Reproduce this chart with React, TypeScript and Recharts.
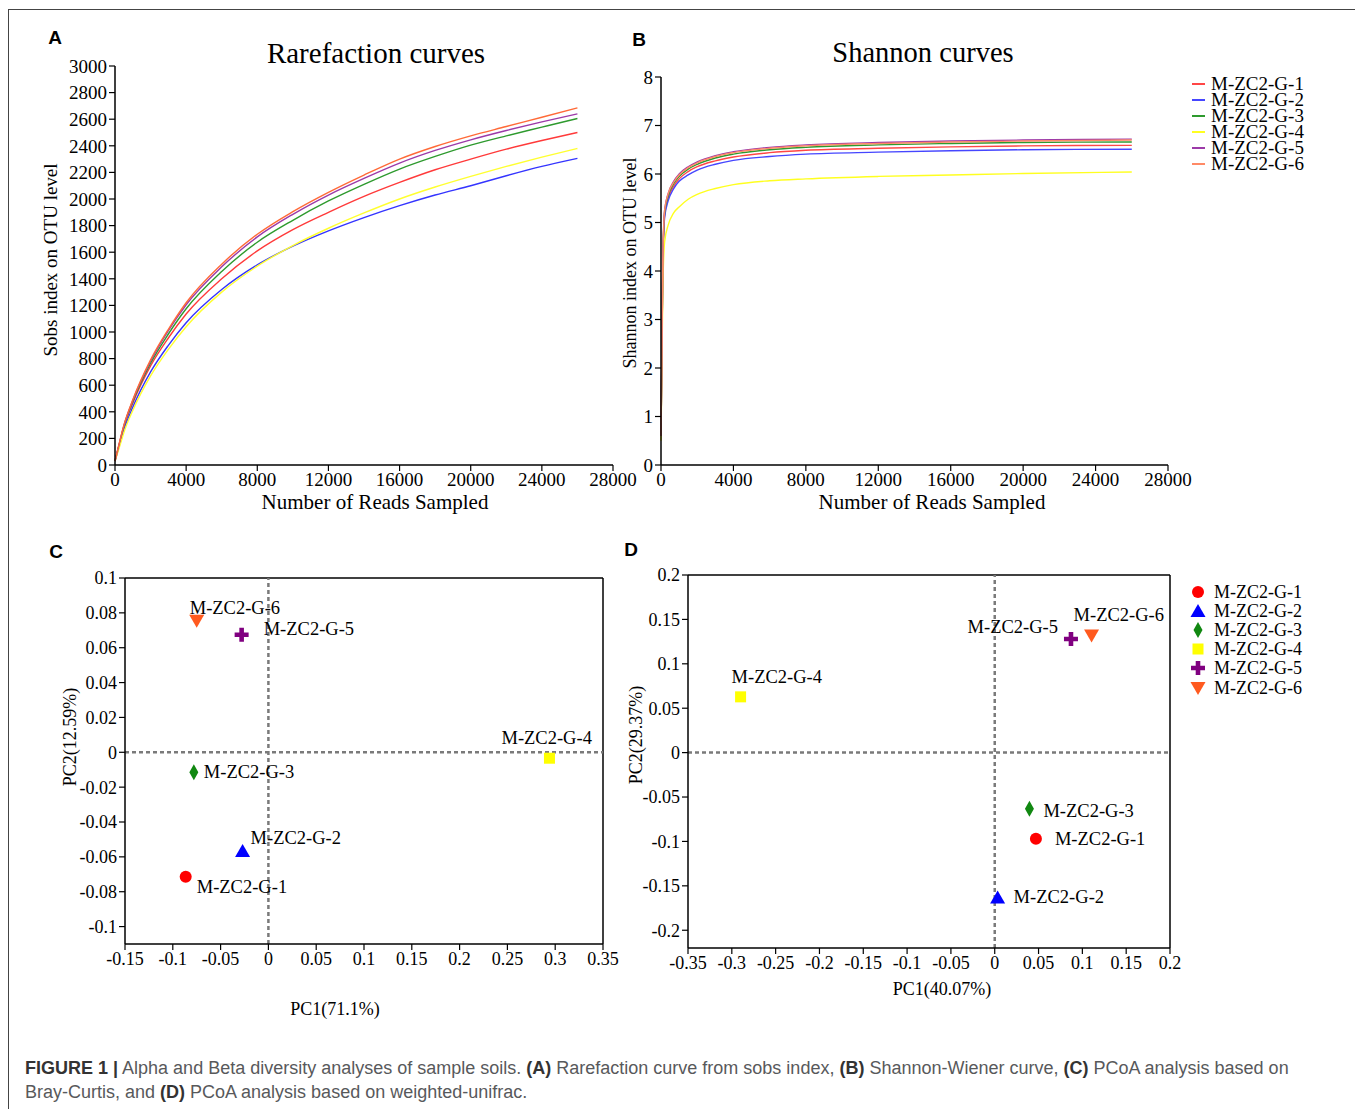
import React from 'react';
import { LineChart, Line, ScatterChart, Scatter, XAxis, YAxis, ReferenceLine } from 'recharts';

const SERIF = '"Liberation Serif", "Times New Roman", serif';
const SANS = '"Liberation Sans", Arial, sans-serif';

const SAMPLES = ['M-ZC2-G-1', 'M-ZC2-G-2', 'M-ZC2-G-3', 'M-ZC2-G-4', 'M-ZC2-G-5', 'M-ZC2-G-6'];

// A: rarefaction curves (sobs index)
const READS_A = [0, 250, 500, 1000, 2000, 3000, 4000, 6000, 8000, 10000, 12000, 14000, 16000, 18000, 20000, 22000, 24000, 26000];
const SOBS_G1 = [30, 160, 285, 465, 745, 955, 1135, 1400, 1610, 1770, 1900, 2020, 2125, 2220, 2300, 2375, 2440, 2500];
const SOBS_G2 = [30, 150, 265, 435, 700, 900, 1070, 1320, 1505, 1645, 1760, 1860, 1950, 2030, 2100, 2175, 2245, 2305];
const SOBS_G3 = [30, 160, 290, 475, 765, 985, 1175, 1455, 1675, 1840, 1985, 2110, 2225, 2320, 2405, 2475, 2540, 2605];
const SOBS_G4 = [30, 135, 245, 410, 670, 870, 1040, 1300, 1495, 1650, 1780, 1895, 2000, 2090, 2170, 2245, 2315, 2380];
const SOBS_G5 = [30, 165, 295, 485, 780, 1010, 1205, 1490, 1715, 1885, 2030, 2155, 2270, 2365, 2445, 2515, 2580, 2640];
const SOBS_G6 = [30, 170, 300, 490, 790, 1020, 1220, 1510, 1735, 1905, 2050, 2180, 2300, 2395, 2475, 2545, 2615, 2685];
const SOBS = [SOBS_G1, SOBS_G2, SOBS_G3, SOBS_G4, SOBS_G5, SOBS_G6];

// B: shannon curves
const READS_B = [0, 100, 200, 400, 700, 1000, 1500, 2000, 3000, 4000, 6000, 8000, 12000, 16000, 20000, 26000];
const SHAN_G1 = [0.6, 4.1, 5.15, 5.5, 5.75, 5.9, 6.05, 6.15, 6.27, 6.35, 6.44, 6.49, 6.53, 6.56, 6.58, 6.59];
const SHAN_G2 = [0.6, 4.05, 5.1, 5.45, 5.7, 5.85, 5.98, 6.08, 6.2, 6.28, 6.36, 6.41, 6.45, 6.48, 6.5, 6.51];
const SHAN_G3 = [0.6, 4.15, 5.2, 5.55, 5.8, 5.95, 6.1, 6.2, 6.33, 6.41, 6.5, 6.55, 6.6, 6.63, 6.65, 6.66];
const SHAN_G4 = [0.5, 3.6, 4.6, 4.95, 5.2, 5.32, 5.48, 5.58, 5.7, 5.78, 5.86, 5.9, 5.95, 5.98, 6.01, 6.04];
const SHAN_G5 = [0.6, 4.2, 5.25, 5.6, 5.85, 6.0, 6.15, 6.25, 6.38, 6.46, 6.55, 6.6, 6.65, 6.68, 6.7, 6.72];
const SHAN_G6 = [0.6, 4.2, 5.25, 5.6, 5.83, 5.98, 6.13, 6.23, 6.36, 6.44, 6.53, 6.58, 6.63, 6.66, 6.68, 6.7];
const SHANNON = [SHAN_G1, SHAN_G2, SHAN_G3, SHAN_G4, SHAN_G5, SHAN_G6];

// C: PCoA Bray-Curtis
const BC_PC1 = [-0.0865, -0.027, -0.078, 0.294, -0.028, -0.075];
const BC_PC2 = [-0.0714, -0.0566, -0.0114, -0.0034, 0.0674, 0.0754];

// D: PCoA weighted-unifrac
const WU_PC1 = [0.047, 0.0033, 0.0396, -0.29, 0.087, 0.1105];
const WU_PC2 = [-0.097, -0.163, -0.0632, 0.0628, 0.128, 0.132];

const A_TICKS_X = [0, 4000, 8000, 12000, 16000, 20000, 24000, 28000];
const A_TICKS_Y = [0, 200, 400, 600, 800, 1000, 1200, 1400, 1600, 1800, 2000, 2200, 2400, 2600, 2800, 3000];
const B_TICKS_Y = [0, 1, 2, 3, 4, 5, 6, 7, 8];
const C_TICKS_X = [-0.15, -0.1, -0.05, 0, 0.05, 0.1, 0.15, 0.2, 0.25, 0.3, 0.35];
const C_TICKS_Y = [-0.1, -0.08, -0.06, -0.04, -0.02, 0, 0.02, 0.04, 0.06, 0.08, 0.1];
const D_TICKS_X = [-0.35, -0.3, -0.25, -0.2, -0.15, -0.1, -0.05, 0, 0.05, 0.1, 0.15, 0.2];
const D_TICKS_Y = [-0.2, -0.15, -0.1, -0.05, 0, 0.05, 0.1, 0.15, 0.2];

const COLORS_A = ['#ff3a3a', '#3434ff', '#2e9a2e', '#ffff30', '#9c3aa8', '#ff6a38'];
const COLORS_B = ['#ff4646', '#4646ff', '#2e9a2e', '#ffff20', '#9c3aa8', '#ff8a66'];
const MARK_COLORS = ['#ff0000', '#0000ff', '#118811', '#ffff00', '#800080', '#ff5a1f'];
const MARK_KINDS = ['circle', 'triangle', 'diamond', 'square', 'cross', 'down'];

// label offsets relative to marker [dx, dy, anchor]
const LABEL_C: [number, number, string][] = [
  [11, 16, 'start'], [8, -7, 'start'], [10, 6, 'start'],
  [-48, -14, 'start'], [22, 0, 'start'], [-7, -7, 'start'],
];
const LABEL_D: [number, number, string][] = [
  [19, 6, 'start'], [16, 6, 'start'], [14, 8, 'start'],
  [-9, -14, 'start'], [-13, -6, 'end'], [-18, -14, 'start'],
];

const dataA = READS_A.map((r, i) => {
  const row: any = { reads: r };
  SAMPLES.forEach((s, k) => { row[s] = SOBS[k][i]; });
  return row;
});
const dataB = READS_B.map((r, i) => {
  const row: any = { reads: r };
  SAMPLES.forEach((s, k) => { row[s] = SHANNON[k][i]; });
  return row;
});

const tickStyle = { fill: '#000', fontSize: 19, fontFamily: SERIF };
const tickStyleSm = { fill: '#000', fontSize: 18, fontFamily: SERIF };
const axisLine = { stroke: '#000', strokeWidth: 1.5 };
const tickLine = { stroke: '#000', strokeWidth: 1.2 };

function Marker({ kind, cx, cy, color }: any) {
  switch (kind) {
    case 'circle':
      return <circle cx={cx} cy={cy} r={6} fill={color} />;
    case 'triangle':
      return <path d={`M${cx},${cy - 7}L${cx + 7.5},${cy + 6}L${cx - 7.5},${cy + 6}Z`} fill={color} />;
    case 'diamond':
      return <path d={`M${cx},${cy - 8}L${cx + 4.5},${cy}L${cx},${cy + 8}L${cx - 4.5},${cy}Z`} fill={color} />;
    case 'square':
      return <rect x={cx - 5.5} y={cy - 5.5} width={11} height={11} fill={color} />;
    case 'cross':
      return (
        <path
          d={`M${cx - 2.3},${cy - 7}h4.6v4.7h4.7v4.6h-4.7v4.7h-4.6v-4.7h-4.7v-4.6h4.7Z`}
          fill={color}
        />
      );
    default:
      return <path d={`M${cx - 7.5},${cy - 6}L${cx + 7.5},${cy - 6}L${cx},${cy + 7}Z`} fill={color} />;
  }
}

const Text = ({ x, y, size, children, rotate, bold, family }: any) => (
  <div
    style={{
      position: 'absolute', left: x, top: y, whiteSpace: 'nowrap',
      transform: `translate(-50%, -50%)${rotate ? ' rotate(-90deg)' : ''}`,
      fontSize: size, fontFamily: family || SERIF, fontWeight: bold ? 700 : 400, color: '#000',
      lineHeight: 1,
    }}
  >
    {children}
  </div>
);

function PcoaChart({ pc1, pc2, labels, ticksX, ticksY, domX, domY, left, top, width, height, margin, yWidth }: any) {
  return (
    <div style={{ position: 'absolute', left, top }}>
      <ScatterChart width={width} height={height} margin={margin}>
        <XAxis
          type="number" dataKey="x" domain={domX} ticks={ticksX} interval={0}
          tick={tickStyleSm} axisLine={axisLine} tickLine={tickLine} tickSize={6} height={30}
        />
        <YAxis
          type="number" dataKey="y" domain={domY} ticks={ticksY} interval={0}
          tick={tickStyleSm} axisLine={axisLine} tickLine={tickLine} tickSize={6} width={yWidth}
        />
        <ReferenceLine y={domY[1]} stroke="#000" strokeWidth={1.5} />
        <ReferenceLine x={domX[1]} stroke="#000" strokeWidth={1.5} />
        <ReferenceLine y={0} stroke="#7a7a7a" strokeWidth={2.5} strokeDasharray="4 3" />
        <ReferenceLine x={0} stroke="#7a7a7a" strokeWidth={2.5} strokeDasharray="4 3" />
        {SAMPLES.map((s, k) => (
          <Scatter
            key={s}
            name={s}
            data={[{ x: pc1[k], y: pc2[k] }]}
            isAnimationActive={false}
            shape={(p: any) => (
              <g>
                <Marker kind={MARK_KINDS[k]} cx={p.cx} cy={p.cy} color={MARK_COLORS[k]} />
                <text
                  x={p.cx + labels[k][0]} y={p.cy + labels[k][1]} textAnchor={labels[k][2]}
                  fontFamily={SERIF} fontSize={18.5} fill="#000"
                >
                  {s}
                </text>
              </g>
            )}
          />
        ))}
      </ScatterChart>
    </div>
  );
}

export default function App() {
  return (
    <div style={{ position: 'absolute', left: 0, top: 0, width: 1355, height: 1109, background: '#fff', overflow: 'hidden' }}>
      <div style={{ position: 'absolute', left: 8, top: 9, width: 1347, borderTop: '1px solid #444' }} />
      <div style={{ position: 'absolute', left: 8, top: 9, height: 1100, borderLeft: '1px solid #444' }} />

      {/* A */}
      <div style={{ position: 'absolute', left: 0, top: 20 }}>
        <LineChart width={640} height={500} data={dataA} margin={{ top: 46, right: 27, bottom: 25, left: 55 }}>
          <XAxis
            type="number" dataKey="reads" domain={[0, 28000]} ticks={A_TICKS_X} interval={0}
            tick={tickStyle} axisLine={axisLine} tickLine={tickLine} tickSize={6} height={30}
          />
          <YAxis
            type="number" domain={[0, 3000]} ticks={A_TICKS_Y} interval={0}
            tick={tickStyle} axisLine={axisLine} tickLine={tickLine} tickSize={6} width={60}
          />
          {SAMPLES.map((s, k) => (
            <Line key={s} type="monotone" dataKey={s} stroke={COLORS_A[k]} strokeWidth={1.4} dot={false} isAnimationActive={false} />
          ))}
        </LineChart>
      </div>
      <Text x={55} y={37} size={19} bold family={SANS}>A</Text>
      <Text x={376} y={53} size={29}>Rarefaction curves</Text>
      <Text x={375} y={502} size={21}>Number of Reads Sampled</Text>
      <Text x={50} y={260} size={19} rotate>Sobs index on OTU level</Text>

      {/* B */}
      <div style={{ position: 'absolute', left: 600, top: 20 }}>
        <LineChart width={600} height={500} data={dataB} margin={{ top: 57, right: 32, bottom: 25, left: 21 }}>
          <XAxis
            type="number" dataKey="reads" domain={[0, 28000]} ticks={A_TICKS_X} interval={0}
            tick={tickStyle} axisLine={axisLine} tickLine={tickLine} tickSize={6} height={30}
          />
          <YAxis
            type="number" domain={[0, 8]} ticks={B_TICKS_Y} interval={0}
            tick={tickStyle} axisLine={axisLine} tickLine={tickLine} tickSize={6} width={40}
          />
          {SAMPLES.map((s, k) => (
            <Line key={s} type="monotone" dataKey={s} stroke={COLORS_B[k]} strokeWidth={1.4} dot={false} isAnimationActive={false} />
          ))}
        </LineChart>
      </div>
      <Text x={639} y={39} size={19} bold family={SANS}>B</Text>
      <Text x={923} y={53} size={28.5}>Shannon curves</Text>
      <Text x={932} y={502} size={21}>Number of Reads Sampled</Text>
      <Text x={630} y={263} size={18} rotate>Shannon index on OTU level</Text>
      <div style={{ position: 'absolute', left: 1192, top: 76 }}>
        {SAMPLES.map((s, k) => (
          <div key={s} style={{ display: 'flex', alignItems: 'center', height: 16 }}>
            <div style={{ width: 13, height: 1.5, background: COLORS_B[k], marginRight: 6 }} />
            <span style={{ fontFamily: SERIF, fontSize: 19, lineHeight: '16px' }}>{s}</span>
          </div>
        ))}
      </div>

      {/* C */}
      <PcoaChart
        pc1={BC_PC1} pc2={BC_PC2} labels={LABEL_C} ticksX={C_TICKS_X} ticksY={C_TICKS_Y}
        domX={[-0.15, 0.35]} domY={[-0.11, 0.1]} left={0} top={540} width={640} height={480}
        margin={{ top: 38, right: 37, bottom: 46, left: 65 }} yWidth={60}
      />
      <Text x={56} y={551} size={19} bold family={SANS}>C</Text>
      <Text x={335} y={1009} size={18}>PC1(71.1%)</Text>
      <Text x={70} y={737} size={18} rotate>PC2(12.59%)</Text>

      {/* D */}
      <PcoaChart
        pc1={WU_PC1} pc2={WU_PC2} labels={LABEL_D} ticksX={D_TICKS_X} ticksY={D_TICKS_Y}
        domX={[-0.35, 0.2]} domY={[-0.22, 0.2]} left={640} top={540} width={580} height={480}
        margin={{ top: 35, right: 50, bottom: 42, left: 3 }} yWidth={45}
      />
      <Text x={631} y={549} size={19} bold family={SANS}>D</Text>
      <Text x={942} y={989} size={18}>PC1(40.07%)</Text>
      <Text x={636} y={735} size={18} rotate>PC2(29.37%)</Text>
      <div style={{ position: 'absolute', left: 1189, top: 582 }}>
        {SAMPLES.map((s, k) => (
          <div key={s} style={{ display: 'flex', alignItems: 'center', height: 19.2 }}>
            <svg width={20} height={18} style={{ marginRight: 5 }}>
              <Marker kind={MARK_KINDS[k]} cx={9} cy={9} color={MARK_COLORS[k]} />
            </svg>
            <span style={{ fontFamily: SERIF, fontSize: 18, lineHeight: '18px' }}>{s}</span>
          </div>
        ))}
      </div>

      {/* caption */}
      <div style={{ position: 'absolute', left: 25, top: 1056, width: 1320, fontFamily: SANS, fontSize: 18, lineHeight: '24px', color: '#58595b' }}>
        <b style={{ color: '#333' }}>FIGURE 1 |</b> Alpha and Beta diversity analyses of sample soils. <b style={{ color: '#333' }}>(A)</b> Rarefaction curve from sobs index, <b style={{ color: '#333' }}>(B)</b> Shannon-Wiener curve, <b style={{ color: '#333' }}>(C)</b> PCoA analysis based on<br />
        Bray-Curtis, and <b style={{ color: '#333' }}>(D)</b> PCoA analysis based on weighted-unifrac.
      </div>
    </div>
  );
}
